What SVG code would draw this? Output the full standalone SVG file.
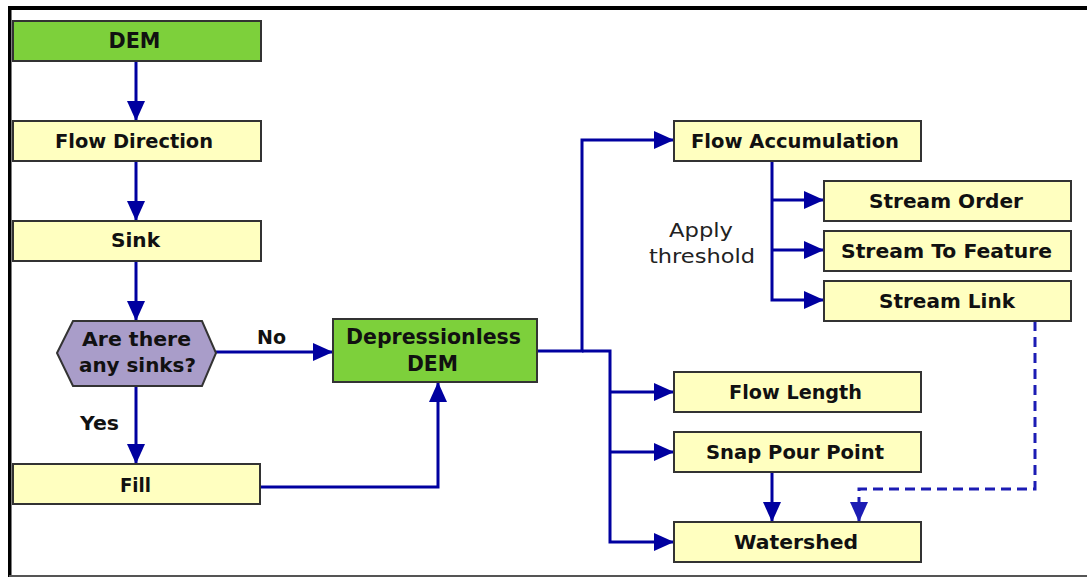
<svg xmlns="http://www.w3.org/2000/svg" width="1087" height="577" viewBox="0 0 1087 577">
<defs>
<marker id="ah" viewBox="0 0 20 20" refX="19" refY="10" markerWidth="20" markerHeight="20" markerUnits="userSpaceOnUse" orient="auto">
<path d="M0,1 L20,10 L0,19 Z" fill="#0000a0"/>
</marker>
<marker id="ahd" viewBox="0 0 20 20" refX="19" refY="10" markerWidth="20" markerHeight="20" markerUnits="userSpaceOnUse" orient="auto">
<path d="M0,1 L20,10 L0,19 Z" fill="#1c1cb4"/>
</marker>
<style>
.box{fill:#ffffc0;stroke:#333;stroke-width:2}
.grn{fill:#7dd03b;stroke:#333;stroke-width:2}
.hex{fill:#a99dc9;stroke:#333;stroke-width:2}
.t{font-family:"DejaVu Sans",Verdana,sans-serif;font-weight:bold;font-size:19px;fill:#111;text-anchor:middle}
.big{font-size:21.5px}
.n{font-family:"DejaVu Sans",Verdana,sans-serif;font-size:19px;fill:#222;text-anchor:middle}
.c{fill:none;stroke:#0000a0;stroke-width:3}
.d{fill:none;stroke:#1c1cb4;stroke-width:3;stroke-dasharray:10 6}
</style>
</defs>
<rect x="0" y="0" width="1087" height="577" fill="#fff"/>
<g id="frame">
<rect x="9" y="6" width="1078" height="4" fill="#000"/>
<rect x="8" y="6" width="3.5" height="571" fill="#000"/>
<rect x="9" y="575" width="1078" height="2" fill="#555"/>
</g>
<g id="connectors">
<path class="c" d="M136,61 V120" marker-end="url(#ah)"/>
<path class="c" d="M136,161 V220" marker-end="url(#ah)"/>
<path class="c" d="M136,261 V320" marker-end="url(#ah)"/>
<path class="c" d="M136,386 V463" marker-end="url(#ah)"/>
<path class="c" d="M216,352 H332" marker-end="url(#ah)"/>
<path class="c" d="M260,487 H438 V383" marker-end="url(#ah)"/>
<path class="c" d="M537,351 H582 V140 H673" marker-end="url(#ah)"/>
<path class="c" d="M582,351 H610 V542 H673" marker-end="url(#ah)"/>
<path class="c" d="M610,392 H673" marker-end="url(#ah)"/>
<path class="c" d="M610,452 H673" marker-end="url(#ah)"/>
<path class="c" d="M772,161 V300 H823" marker-end="url(#ah)"/>
<path class="c" d="M772,200 H823" marker-end="url(#ah)"/>
<path class="c" d="M772,250 H823" marker-end="url(#ah)"/>
<path class="c" d="M772,472 V521" marker-end="url(#ah)"/>
<path class="d" d="M1035,321 V489 H859 V521" marker-end="url(#ahd)"/>
<text class="t" x="271.5" y="344" textLength="29" lengthAdjust="spacingAndGlyphs">No</text>
<text class="t" x="99.5" y="430" textLength="39" lengthAdjust="spacingAndGlyphs">Yes</text>
<text class="n" x="701" y="237" textLength="64" lengthAdjust="spacingAndGlyphs">Apply</text>
<text class="n" x="702" y="263" textLength="106" lengthAdjust="spacingAndGlyphs">threshold</text>
</g>
<g id="dem"><rect class="grn" x="13" y="21" width="248" height="40"/><text class="t big" x="134.5" y="48" textLength="52" lengthAdjust="spacingAndGlyphs">DEM</text></g>
<g id="flowdir"><rect class="box" x="13" y="121" width="248" height="40"/><text class="t" x="134" y="148" textLength="158" lengthAdjust="spacingAndGlyphs">Flow Direction</text></g>
<g id="sink"><rect class="box" x="13" y="221" width="248" height="40"/><text class="t" x="135.5" y="247" textLength="49" lengthAdjust="spacingAndGlyphs">Sink</text></g>
<g id="decision"><polygon class="hex" points="57,353 73,321 202,321 216,353 202,386 73,386"/><text class="t" x="136.5" y="346" textLength="109" lengthAdjust="spacingAndGlyphs">Are there</text><text class="t" x="137.5" y="372" textLength="117" lengthAdjust="spacingAndGlyphs">any sinks?</text></g>
<g id="fill"><rect class="box" x="13" y="464" width="247" height="40"/><text class="t" x="135.5" y="492" textLength="31" lengthAdjust="spacingAndGlyphs">Fill</text></g>
<g id="depdem"><rect class="grn" x="333" y="319" width="204" height="63"/><text class="t big" x="433.5" y="344" textLength="175" lengthAdjust="spacingAndGlyphs">Depressionless</text><text class="t big" x="432.5" y="371" textLength="51" lengthAdjust="spacingAndGlyphs">DEM</text></g>
<g id="flowacc"><rect class="box" x="674" y="121" width="247" height="40"/><text class="t" x="795" y="148" textLength="208" lengthAdjust="spacingAndGlyphs">Flow Accumulation</text></g>
<g id="streamorder"><rect class="box" x="824" y="181" width="247" height="40"/><text class="t" x="946" y="208" textLength="154" lengthAdjust="spacingAndGlyphs">Stream Order</text></g>
<g id="streamfeature"><rect class="box" x="824" y="231" width="247" height="40"/><text class="t" x="946.5" y="258" textLength="211" lengthAdjust="spacingAndGlyphs">Stream To Feature</text></g>
<g id="streamlink"><rect class="box" x="824" y="281" width="247" height="40"/><text class="t" x="947" y="308" textLength="136" lengthAdjust="spacingAndGlyphs">Stream Link</text></g>
<g id="flowlength"><rect class="box" x="674" y="372" width="247" height="40"/><text class="t" x="795.5" y="399" textLength="133" lengthAdjust="spacingAndGlyphs">Flow Length</text></g>
<g id="snap"><rect class="box" x="674" y="432" width="247" height="40"/><text class="t" x="795" y="459" textLength="178" lengthAdjust="spacingAndGlyphs">Snap Pour Point</text></g>
<g id="watershed"><rect class="box" x="674" y="522" width="247" height="40"/><text class="t" x="796" y="549" textLength="124" lengthAdjust="spacingAndGlyphs">Watershed</text></g>
</svg>
